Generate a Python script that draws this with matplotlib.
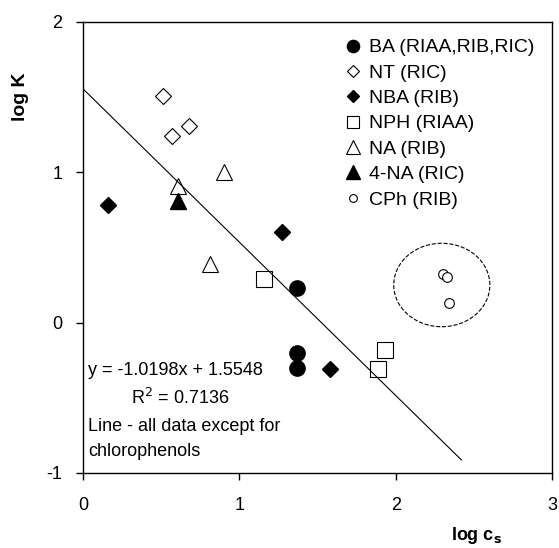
import matplotlib.pyplot as plt
from matplotlib.patches import Ellipse
from matplotlib.ticker import FuncFormatter
import numpy as np

# data: (log c_s, log K)
ba_x = [1.37, 1.37, 1.37]
ba_y = [0.23, -0.20, -0.30]
nt_x = [0.51, 0.57, 0.68]
nt_y = [1.51, 1.24, 1.31]
nba_x = [0.16, 1.27, 1.58]
nba_y = [0.78, 0.60, -0.31]
nph_x = [1.16, 1.93, 1.89]
nph_y = [0.29, -0.18, -0.31]
na_x = [0.61, 0.90, 0.81]
na_y = [0.91, 1.00, 0.39]
na4_x = [0.61]
na4_y = [0.81]
cph_x = [2.30, 2.33, 2.34]
cph_y = [0.32, 0.30, 0.13]

slope = -1.0198
intercept = 1.5548
line_x = [0.0, 2.42]

plt.rcParams['font.family'] = ['Liberation Sans', 'DejaVu Sans']

fig = plt.figure(figsize=(5.59, 5.48), dpi=100)
ax = fig.add_axes([0.1485, 0.137, 0.839, 0.823])

ax.plot(ba_x, ba_y, 'o', color='black', markersize=11, linestyle='none', label='BA (RIAA,RIB,RIC)')
ax.plot(nt_x, nt_y, 'D', mfc='white', mec='black', mew=0.8, markersize=8, linestyle='none', label='NT (RIC)')
ax.plot(nba_x, nba_y, 'D', color='black', markersize=8, linestyle='none', label='NBA (RIB)')
ax.plot(nph_x, nph_y, 's', mfc='white', mec='black', mew=0.8, markersize=11, linestyle='none', label='NPH (RIAA)')
ax.plot(na_x, na_y, '^', mfc='white', mec='black', mew=0.8, markersize=12, linestyle='none', label='NA (RIB)')
ax.plot(na4_x, na4_y, '^', color='black', markersize=12, linestyle='none', label='4-NA (RIC)')
ax.plot(cph_x, cph_y, 'o', mfc='white', mec='black', mew=0.8, markersize=7, linestyle='none', label='CPh (RIB)')

lx = np.array(line_x)
ax.plot(lx, slope * lx + intercept, color='black', linewidth=0.8)

ax.add_patch(Ellipse((2.295, 0.25), 0.615, 0.555, fill=False, linestyle='--',
                     edgecolor='black', linewidth=0.8))

ax.text(0.035, -0.32, 'y = -1.0198x + 1.5548', fontsize=13, va='center')
ax.text(0.31, -0.50, 'R$^2$ = 0.7136', fontsize=13, va='center')
ax.text(0.035, -0.69, 'Line - all data except for', fontsize=13, va='center')
ax.text(0.035, -0.855, 'chlorophenols', fontsize=13, va='center')

ax.set_xlim(0, 3)
ax.set_ylim(-1, 2)
ax.set_xticks([0, 1, 2, 3])
ax.set_yticks([-1, 0, 1, 2])
ax.yaxis.set_major_formatter(FuncFormatter(lambda v, p: '%d' % v))
ax.tick_params(axis='both', labelsize=13, direction='out', length=5, width=1)
ax.tick_params(axis='x', pad=12)
ax.tick_params(axis='y', pad=10)
for s in ax.spines.values():
    s.set_linewidth(1)

ax.set_ylabel('log K', fontsize=14, fontweight='bold')
ax.yaxis.set_label_coords(-0.115, 0.835)
ax.set_xlabel('log c$_\\mathbf{s}$', fontsize=13, fontweight='bold')
ax.xaxis.set_label_coords(0.84, -0.115)

leg = ax.legend(loc='upper right', bbox_to_anchor=(0.98, 0.98), frameon=False,
                fontsize=14, handletextpad=0.35, borderaxespad=0.0, labelspacing=0.4,
                handlelength=1.0, markerscale=0.8, numpoints=1)

fig.savefig('out.png', dpi=100)
